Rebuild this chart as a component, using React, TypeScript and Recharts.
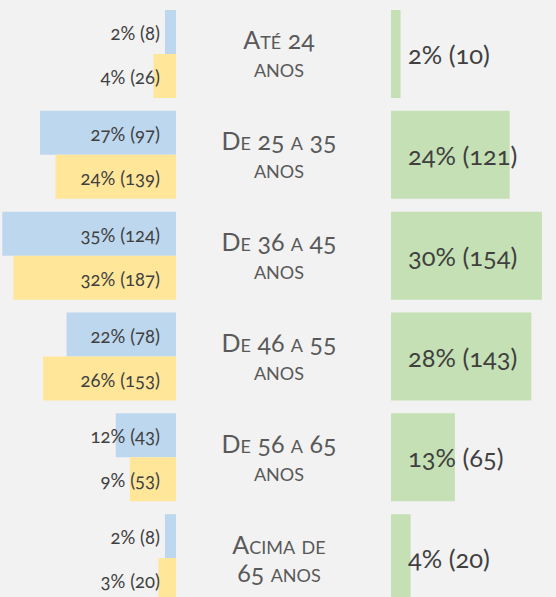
import { BarChart, Bar, XAxis, YAxis, LabelList } from "recharts";

const AGE_LINES = [
  ["Até 24", "anos"],
  ["De 25 a 35", "anos"],
  ["De 36 a 45", "anos"],
  ["De 46 a 55", "anos"],
  ["De 56 a 65", "anos"],
  ["Acima de", "65 anos"],
];
const AGES = AGE_LINES.map((l) => l.join(" "));

// blue series
const BLUE_PCT = [2, 27, 35, 22, 12, 2];
const BLUE_COUNT = [8, 97, 124, 78, 43, 8];
const BLUE_SHARE = [2.2, 27.1, 34.6, 21.8, 12.0, 2.2];

// yellow series
const YELLOW_PCT = [4, 24, 32, 26, 9, 3];
const YELLOW_COUNT = [26, 139, 187, 153, 53, 20];
const YELLOW_SHARE = [4.5, 24.0, 32.4, 26.5, 9.2, 3.5];

// green series
const GREEN_PCT = [2, 24, 30, 28, 13, 4];
const GREEN_COUNT = [10, 121, 154, 143, 65, 20];
const GREEN_SHARE = [1.9, 23.6, 30.0, 27.9, 12.7, 3.9];

const fmt = (p: number, c: number) => `${p}% (${c})`;

const data = AGES.map((age, i) => ({
  age,
  blue: BLUE_SHARE[i],
  yellow: YELLOW_SHARE[i],
  green: GREEN_SHARE[i],
  blueLabel: fmt(BLUE_PCT[i], BLUE_COUNT[i]),
  yellowLabel: fmt(YELLOW_PCT[i], YELLOW_COUNT[i]),
  greenLabel: fmt(GREEN_PCT[i], GREEN_COUNT[i]),
}));

const FONT = "Lato, 'Open Sans', sans-serif";
const LABEL_COLOR = "#404040";
const CAT_COLOR = "#595959";

const numStyle = { fontVariantNumeric: "oldstyle-nums" } as const;

function LeftLabel(props: any) {
  const { x, y, width, height, value } = props;
  const right = Math.max(x, x + width);
  return (
    <text
      x={right - 16}
      y={y + height / 2 + 8}
      textAnchor="end"
      fontSize={18.5}
      fill={LABEL_COLOR}
      fontFamily={FONT}
      style={numStyle}
    >
      {value}
    </text>
  );
}

function GreenLabel(props: any) {
  const { x, y, height, value } = props;
  return (
    <text
      x={Math.min(x, x + props.width) + 17}
      y={y + height / 2 + 10}
      fontSize={25.5}
      fill={LABEL_COLOR}
      fontFamily={FONT}
      style={numStyle}
    >
      {value}
    </text>
  );
}

function AgeTick(props: any) {
  const { y, payload } = props;
  const lines = AGE_LINES[AGES.indexOf(payload.value)] || [payload.value];
  return (
    <g>
      {lines.map((line, k) => (
        <text
          key={k}
          x={279}
          y={y - 5 + k * 28}
          textAnchor="middle"
          fontSize={25}
          fill={CAT_COLOR}
          fontFamily={FONT}
          style={{ fontVariant: "small-caps", ...numStyle }}
        >
          {line}
        </text>
      ))}
    </g>
  );
}

export default function App() {
  return (
    <div
      style={{
        position: "relative",
        width: 556,
        height: 597,
        overflow: "hidden",
        background: "#f2f2f2",
        fontFamily: FONT,
      }}
    >
      <style>{"body{margin:0}"}</style>

      {/* right side: green bars + age labels in the y axis */}
      <div style={{ position: "absolute", left: 0, top: 0 }}>
        <BarChart
          width={556}
          height={609}
          data={data}
          layout="vertical"
          margin={{ top: 4, right: 0, bottom: 0, left: 0 }}
        >
          <XAxis type="number" domain={[0, 32.8]} hide />
          <YAxis
            type="category"
            dataKey="age"
            width={391}
            axisLine={false}
            tickLine={false}
            tick={<AgeTick />}
            interval={0}
          />
          <Bar dataKey="green" fill="#c5e0b4" barSize={88} isAnimationActive={false}>
            <LabelList dataKey="greenLabel" content={<GreenLabel />} />
          </Bar>
        </BarChart>
      </div>

      {/* left side: blue and yellow bars growing leftwards */}
      <div style={{ position: "absolute", left: 0, top: 0 }}>
        <BarChart
          width={176}
          height={609}
          data={data}
          layout="vertical"
          barGap={0}
          margin={{ top: 4, right: 0, bottom: 0, left: 0 }}
        >
          <XAxis type="number" domain={[0, 35.06]} reversed hide />
          <YAxis type="category" dataKey="age" hide />
          <Bar dataKey="blue" fill="#bdd7ee" barSize={44} isAnimationActive={false}>
            <LabelList dataKey="blueLabel" content={<LeftLabel />} />
          </Bar>
          <Bar dataKey="yellow" fill="#ffe699" barSize={44} isAnimationActive={false}>
            <LabelList dataKey="yellowLabel" content={<LeftLabel />} />
          </Bar>
        </BarChart>
      </div>
    </div>
  );
}
